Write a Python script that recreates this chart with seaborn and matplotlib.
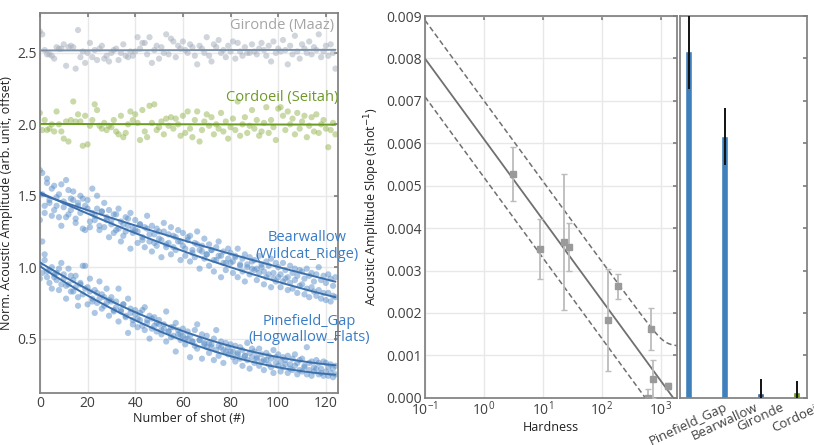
import numpy as np
import pandas as pd
import seaborn as sns
import matplotlib.pyplot as plt
from matplotlib.ticker import LogLocator, FormatStrFormatter, NullFormatter

# ---- left panel: normalised amplitude per shot ----
shots = np.arange(125)

gironde = [
    2.65, 2.63, 2.52, 2.49, 2.49, 2.48, 2.46, 2.54, 2.53, 2.53,
    2.56, 2.41, 2.54, 2.55, 2.54, 2.39, 2.66, 2.47, 2.51, 2.43,
    2.50, 2.57, 2.47, 2.52, 2.45, 2.53, 2.55, 2.46, 2.48, 2.44,
    2.50, 2.52, 2.53, 2.45, 2.50, 2.56, 2.48, 2.47, 2.51, 2.48,
    2.51, 2.61, 2.53, 2.57, 2.57, 2.49, 2.61, 2.43, 2.52, 2.55,
    2.46, 2.54, 2.50, 2.63, 2.49, 2.60, 2.58, 2.47, 2.55, 2.53,
    2.58, 2.52, 2.50, 2.56, 2.54, 2.48, 2.42, 2.55, 2.53, 2.50,
    2.61, 2.48, 2.44, 2.56, 2.54, 2.59, 2.50, 2.52, 2.47, 2.55,
    2.51, 2.58, 2.46, 2.57, 2.51, 2.48, 2.54, 2.50, 2.50, 2.56,
    2.51, 2.49, 2.53, 2.57, 2.52, 2.48, 2.55, 2.44, 2.58, 2.50,
    2.53, 2.51, 2.59, 2.52, 2.42, 2.55, 2.49, 2.62, 2.51, 2.46,
    2.56, 2.53, 2.50, 2.58, 2.49, 2.54, 2.52, 2.63, 2.47, 2.51,
    2.55, 2.48, 2.56, 2.50, 2.39]

cordoeil = [
    2.08, 1.96, 2.03, 1.96, 1.97, 2.00, 1.95, 2.09, 2.00, 1.95,
    1.90, 2.02, 1.88, 2.03, 2.16, 2.02, 2.07, 2.02, 1.85, 2.06,
    1.86, 1.99, 2.03, 2.14, 2.10, 1.99, 1.97, 2.01, 1.96, 1.99,
    1.98, 2.03, 1.95, 1.93, 2.06, 1.91, 1.94, 2.00, 2.09, 2.03,
    2.07, 2.01, 1.89, 2.10, 1.95, 1.91, 2.13, 2.01, 2.14, 1.96,
    1.98, 2.02, 1.93, 2.04, 1.99, 2.05, 1.97, 2.04, 2.00, 1.92,
    2.06, 1.94, 2.09, 1.97, 1.91, 2.03, 2.09, 1.88, 1.96, 2.02,
    2.07, 1.99, 2.05, 1.93, 2.00, 1.97, 2.08, 1.95, 2.02, 1.90,
    1.98, 2.04, 1.96, 2.16, 1.92, 2.00, 2.05, 1.94, 1.99, 2.10,
    1.97, 2.03, 1.92, 1.95, 2.01, 2.12, 1.94, 2.03, 1.98, 1.89,
    2.11, 2.12, 2.06, 1.96, 2.09, 2.00, 2.04, 1.93, 2.08, 1.97,
    2.02, 2.06, 1.91, 1.99, 2.05, 1.95, 2.07, 1.94, 2.00, 2.03,
    1.97, 1.84, 1.96, 2.01, 1.93]

bearwallow = [
    1.68, 1.66, 1.43, 1.59, 1.45, 1.36, 1.57, 1.43, 1.51, 1.29,
    1.46, 1.35, 1.54, 1.40, 1.47, 1.31, 1.43, 1.38, 1.48, 1.26,
    1.41, 1.28, 1.38, 1.33, 1.50, 1.26, 1.39, 1.28, 1.35, 1.21,
    1.33, 1.24, 1.37, 1.27, 1.18, 1.30, 1.25, 1.34, 1.13, 1.27,
    1.26, 1.17, 1.30, 1.21, 1.14, 1.27, 1.18, 1.11, 1.23, 1.15,
    1.20, 1.07, 1.25, 1.14, 1.17, 1.09, 1.22, 1.12, 1.18, 1.05,
    1.15, 1.08, 1.21, 1.04, 1.12, 1.07, 1.16, 0.99, 1.11, 1.06,
    1.09, 1.01, 1.12, 0.97, 1.05, 1.08, 0.93, 1.03, 0.98, 1.06,
    1.03, 0.96, 1.07, 0.93, 1.01, 0.97, 0.90, 1.02, 0.95, 0.99,
    0.98, 0.91, 0.96, 1.00, 0.88, 0.93, 0.95, 0.86, 0.92, 0.90,
    0.93, 0.86, 0.90, 0.92, 0.84, 0.89, 0.85, 0.91, 0.82, 0.87,
    0.88, 0.81, 0.85, 0.79, 0.86, 0.83, 0.80, 0.84, 0.78, 0.82,
    0.77, 0.82, 0.76, 0.80, 0.79]

wildcat_ridge = [
    1.33, 1.51, 1.38, 1.62, 1.47, 1.55, 1.40, 1.49, 1.35, 1.58,
    1.42, 1.61, 1.37, 1.48, 1.53, 1.34, 1.45, 1.50, 1.27, 1.43,
    1.47, 1.32, 1.55, 1.36, 1.41, 1.29, 1.39, 1.45, 1.33, 1.40,
    1.30, 1.37, 1.26, 1.41, 1.32, 1.22, 1.35, 1.29, 1.38, 1.24,
    1.33, 1.25, 1.30, 1.19, 1.28, 1.36, 1.23, 1.29, 1.17, 1.27,
    1.25, 1.19, 1.31, 1.16, 1.23, 1.28, 1.14, 1.21, 1.26, 1.18,
    1.24, 1.13, 1.19, 1.22, 1.10, 1.17, 1.25, 1.12, 1.15, 1.20,
    1.09, 1.16, 1.12, 1.05, 1.14, 1.18, 1.08, 1.11, 1.03, 1.13,
    1.10, 1.04, 1.08, 1.13, 1.02, 1.06, 1.09, 1.00, 1.07, 1.04,
    1.05, 0.99, 1.08, 1.02, 0.97, 1.04, 1.01, 1.06, 0.96, 1.03,
    1.00, 0.95, 1.03, 0.98, 0.93, 1.01, 0.96, 0.99, 0.94, 0.98,
    0.97, 0.92, 0.99, 0.94, 0.96, 0.90, 0.95, 1.00, 0.91, 0.94,
    0.89, 0.95, 0.92, 0.87, 0.93]

pinefield_gap = [
    0.92, 1.18, 1.05, 0.97, 0.89, 1.00, 0.93, 0.96, 0.84, 1.03,
    0.95, 0.87, 0.99, 0.83, 0.91, 0.94, 0.79, 0.88, 1.01, 0.85,
    0.86, 0.92, 0.78, 0.84, 0.75, 0.90, 0.81, 0.73, 0.85, 0.77,
    0.79, 0.70, 0.76, 0.85, 0.69, 0.74, 0.66, 0.78, 0.71, 0.63,
    0.70, 0.64, 0.68, 0.59, 0.72, 0.63, 0.66, 0.57, 0.65, 0.61,
    0.63, 0.56, 0.60, 0.69, 0.55, 0.58, 0.52, 0.61, 0.56, 0.53,
    0.57, 0.50, 0.55, 0.52, 0.48, 0.56, 0.60, 0.49, 0.53, 0.46,
    0.52, 0.47, 0.44, 0.50, 0.56, 0.45, 0.48, 0.42, 0.47, 0.44,
    0.46, 0.41, 0.45, 0.39, 0.44, 0.42, 0.38, 0.47, 0.40, 0.43,
    0.41, 0.37, 0.43, 0.39, 0.35, 0.40, 0.38, 0.36, 0.42, 0.37,
    0.39, 0.34, 0.37, 0.35, 0.38, 0.32, 0.36, 0.39, 0.33, 0.35,
    0.36, 0.31, 0.44, 0.33, 0.34, 0.30, 0.35, 0.33, 0.29, 0.34,
    0.33, 0.30, 0.32, 0.29, 0.31]

hogwallow_flats = [
    1.02, 0.96, 1.09, 0.93, 0.98, 0.85, 0.95, 0.91, 0.99, 0.88,
    0.92, 0.78, 0.88, 0.94, 0.83, 0.86, 0.73, 0.89, 0.81, 1.01,
    0.74, 0.83, 0.76, 0.68, 0.82, 0.78, 0.71, 0.79, 0.75, 0.66,
    0.76, 0.69, 0.72, 0.62, 0.70, 0.74, 0.65, 0.54, 0.68, 0.60,
    0.67, 0.58, 0.63, 0.70, 0.56, 0.61, 0.50, 0.64, 0.59, 0.55,
    0.60, 0.53, 0.57, 0.48, 0.55, 0.51, 0.58, 0.41, 0.53, 0.49,
    0.52, 0.46, 0.50, 0.37, 0.48, 0.45, 0.43, 0.49, 0.36, 0.47,
    0.44, 0.40, 0.46, 0.35, 0.42, 0.38, 0.44, 0.33, 0.41, 0.39,
    0.41, 0.37, 0.34, 0.40, 0.36, 0.31, 0.38, 0.35, 0.29, 0.37,
    0.33, 0.36, 0.31, 0.34, 0.28, 0.35, 0.32, 0.30, 0.26, 0.33,
    0.31, 0.27, 0.30, 0.32, 0.26, 0.29, 0.28, 0.31, 0.25, 0.28,
    0.27, 0.30, 0.25, 0.28, 0.24, 0.27, 0.29, 0.25, 0.26, 0.24,
    0.27, 0.24, 0.26, 0.23, 0.25]

# ---- middle panel: slope vs hardness ----
hardness = [3.06, 8.9, 23, 28, 128, 185, 680, 740, 600, 1330]
slope = [0.00527, 0.00351, 0.00368, 0.00355, 0.00184, 0.00263, 0.00162, 0.00044, 0.0, 0.00028]
slope_err = [0.00064, 0.0007, 0.0016, 0.00056, 0.0012, 0.0003, 0.0005, 0.00044, 0.0002, 0.00008]
fit_at_1 = 0.0061       # fitted slope at hardness = 1
fit_per_decade = -0.0019
band_half = 0.0009
band_floor = 0.00118

# ---- right panel: bars ----
sites = ["Pinefield_Gap", "Bearwallow", "Gironde", "Cordoeil"]
site_slope = [0.00818, 0.00617, 0.00011, 0.00013]
site_err = [0.00091, 0.00067, 0.00033, 0.00027]
site_colors = ["#3f7fbb", "#3f7fbb", "#40648f", "#6a9a1f"]

sns.set_theme(style="whitegrid")
plt.rcParams["font.family"] = ["Open Sans", "DejaVu Sans"]
plt.rcParams["axes.edgecolor"] = "#808080"
plt.rcParams["grid.color"] = "#e8e8e8"
plt.rcParams["xtick.color"] = "#808080"
plt.rcParams["ytick.color"] = "#808080"
plt.rcParams["xtick.labelcolor"] = "#404040"
plt.rcParams["ytick.labelcolor"] = "#404040"

fig = plt.figure(figsize=(8.14, 4.45), dpi=100)
ax1 = fig.add_axes([0.049, 0.117, 0.366, 0.854])
ax2 = fig.add_axes([0.522, 0.106, 0.310, 0.858])
ax3 = fig.add_axes([0.835, 0.106, 0.156, 0.858])

blue_pt, blue_ln = "#5a8fc8", "#3b6fab"
series = [
    (gironde, "#a3acbb", "#7a8ea5", 1),
    (cordoeil, "#95b452", "#6a9a24", 1),
    (bearwallow, blue_pt, blue_ln, 2),
    (wildcat_ridge, blue_pt, blue_ln, 2),
    (pinefield_gap, blue_pt, blue_ln, 2),
    (hogwallow_flats, blue_pt, blue_ln, 2),
]
for vals, pc, lc, order in series:
    sns.scatterplot(x=shots, y=vals, ax=ax1, color=pc, s=20, alpha=0.5,
                    edgecolor="none", zorder=2)
for vals, pc, lc, order in series:
    sns.regplot(x=shots, y=vals, ax=ax1, order=order, scatter=False, ci=None,
                line_kws=dict(color=lc, lw=1.4, zorder=3))

ax1.set_xlim(0, 125)
ax1.set_ylim(0.12, 2.78)
ax1.set_xticks([0, 20, 40, 60, 80, 100, 120])
ax1.set_yticks([0.5, 1.0, 1.5, 2.0, 2.5])
ax1.yaxis.set_major_formatter(FormatStrFormatter("%.1f"))
ax1.set_xlabel("Number of shot (#)", fontsize=9, color="#202020", labelpad=1)
ax1.set_ylabel("Norm. Acoustic Amplitude (arb. unit, offset)", fontsize=9,
               color="#202020", labelpad=3)
ax1.tick_params(direction="in", top=True, right=True, length=3, labelsize=10, pad=2)

ax1.text(123.4, 2.69, "Gironde (Maaz)", color="#a5a5a5", fontsize=10.5,
         ha="right", va="center")
ax1.text(125.3, 2.19, "Cordoeil (Seitah)", color="#6f9a2a", fontsize=10.5,
         ha="right", va="center")
ax1.text(112, 1.15, "Bearwallow\n(Wildcat_Ridge)", color="#3a7cc6", fontsize=10.5,
         ha="center", va="center", linespacing=1.15, clip_on=False)
ax1.text(113, 0.565, "Pinefield_Gap\n(Hogwallow_Flats)", color="#3a7cc6",
         fontsize=10.5, ha="center", va="center", linespacing=1.15, clip_on=False)

# middle panel
ax2.set_xscale("log")
ax2.errorbar(hardness, slope, yerr=slope_err, fmt="s", ms=4.5, color="#9a9a9a",
             ecolor="#bcbcbc", elinewidth=1.3, capsize=2, capthick=1, zorder=3)
fit_x = np.logspace(-1, np.log10(2000), 300)
fit_y = fit_at_1 + fit_per_decade * np.log10(fit_x)
upper = fit_y + band_half
upper = 0.5 * (upper + band_floor + np.sqrt((upper - band_floor) ** 2 + 0.0003 ** 2))
sns.lineplot(x=fit_x, y=fit_y, ax=ax2, color="#707070", lw=1.3)
sns.lineplot(x=fit_x, y=fit_y - band_half, ax=ax2, color="#707070", lw=1.1,
             linestyle=(0, (3.5, 2)))
sns.lineplot(x=fit_x, y=upper, ax=ax2, color="#707070", lw=1.1,
             linestyle=(0, (3.5, 2)))
ax2.set_xlim(0.1, 1900)
ax2.set_ylim(0, 0.009)
ax2.set_yticks(np.arange(0, 0.0091, 0.001))
ax2.yaxis.set_major_formatter(FormatStrFormatter("%.3f"))
ax2.xaxis.set_major_locator(LogLocator(base=10, numticks=10))
ax2.xaxis.set_minor_locator(LogLocator(base=10, subs=np.arange(2, 10), numticks=10))
ax2.xaxis.set_minor_formatter(NullFormatter())
ax2.grid(True, which="major")
ax2.grid(False, which="minor")
ax2.tick_params(which="both", direction="in", top=True, right=True, labelsize=10, pad=2)
ax2.tick_params(which="major", length=3)
ax2.tick_params(which="minor", length=1.5, top=False)
ax2.set_xlabel("Hardness", fontsize=9, color="#202020", labelpad=1)
ax2.set_ylabel("Acoustic Amplitude Slope (shot$^{-1}$)", fontsize=9,
               color="#202020", labelpad=3)

# right panel
bars = pd.DataFrame({"site": sites, "slope": site_slope})
sns.barplot(data=bars, x="site", y="slope", hue="site", palette=site_colors,
            legend=False, width=0.2, saturation=1, ax=ax3, zorder=2)
ax3.errorbar(range(len(sites)), site_slope, yerr=site_err, fmt="none",
             ecolor="#111111", elinewidth=1.4, zorder=4, clip_on=True)
ax3.set_xlim(-0.25, 3.28)
ax3.set_ylim(0, 0.009)
ax3.set_yticks(np.arange(0, 0.0091, 0.001))
ax3.grid(False)
ax3.set_xlabel("")
ax3.set_ylabel("")
ax3.tick_params(axis="y", direction="in", left=False, right=True, labelleft=False,
                length=3)
ax3.tick_params(axis="x", direction="in", length=0, labelsize=9.5, pad=2)
for lab in ax3.get_xticklabels():
    lab.set_rotation(25)
    lab.set_ha("center")

fig.savefig("out.png", dpi=100)
